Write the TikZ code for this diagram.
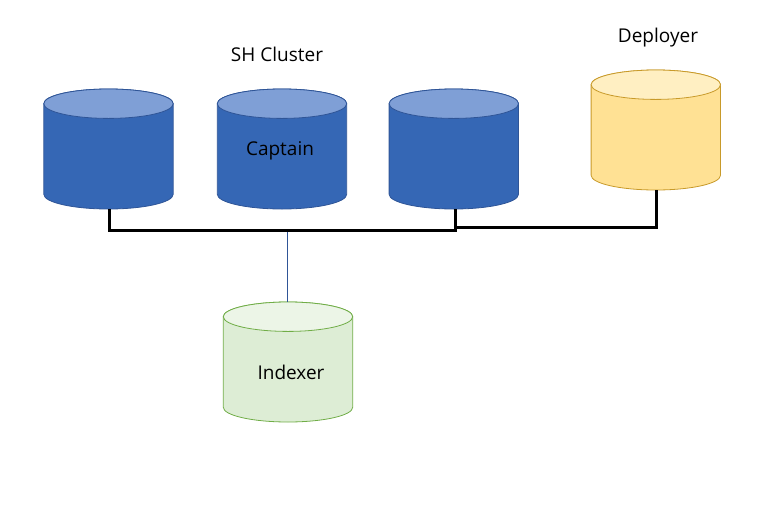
\documentclass[tikz,border=0pt]{standalone}
\usepackage{fontspec}
\setmainfont{Open Sans}
\definecolor{blueb}{HTML}{3567B5}
\definecolor{bluet}{HTML}{7F9FD6}
\definecolor{bluel}{HTML}{2F5597}
\definecolor{yelb}{HTML}{FFE194}
\definecolor{yelt}{HTML}{FFEFC2}
\definecolor{yell}{HTML}{C89A2A}
\definecolor{grnb}{HTML}{DDEDD5}
\definecolor{grnt}{HTML}{ECF5E7}
\definecolor{grnl}{HTML}{70AD47}
\tikzset{
  dbnode/.style={inner sep=0pt,outer sep=0pt,minimum width=129.4pt,minimum height=120pt},
  dbline/.style={line width=0.8pt,line join=round},
  lbl/.style={font=\fontsize{19pt}{23pt}\selectfont,text=black,inner sep=0pt,anchor=base},
  bus/.style={line width=3pt,black,line join=miter},
  bus thin/.style={line width=2.6pt,black,line join=miter},
  thin link/.style={line width=0.9pt,color=bluel}
}
% name, centre x, centre y, line colour, body colour, top colour
\newcommand{\dbcyl}[6]{%
  \node[dbnode] (#1) at (#2,#3) {};
  \filldraw[dbline,draw=#4,fill=#5]
    ([xshift=-64.7pt,yshift=45.3pt]#1.center) -- ([xshift=-64.7pt,yshift=-45.3pt]#1.center)
    arc[start angle=180,end angle=360,x radius=64.7pt,y radius=14.7pt]
    -- ([xshift=64.7pt,yshift=45.3pt]#1.center)
    arc[start angle=0,end angle=180,x radius=64.7pt,y radius=14.7pt] -- cycle;
  \filldraw[dbline,draw=#4,fill=#6]
    ([yshift=45.3pt]#1.center) ellipse[x radius=64.7pt,y radius=14.7pt];
}
\begin{document}
\begin{tikzpicture}[x=1pt,y=-1pt]
\useasboundingbox (0,0) rectangle (780,512);
\dbcyl{c1}{108.5}{149}{bluel}{blueb}{bluet}
\dbcyl{c2}{282}{149}{bluel}{blueb}{bluet}
\dbcyl{c3}{453.8}{149}{bluel}{blueb}{bluet}
\dbcyl{dep}{655.8}{130}{yell}{yelb}{yelt}
\dbcyl{idx}{288}{362}{grnl}{grnb}{grnt}
\node[lbl] (lsh) at (277,61) {SH Cluster};
\node[lbl] (ldep) at (658,42) {Deployer};
\node[lbl] (lcap) at (280,155) {Captain};
\node[lbl] (lidx) at (291,379) {Indexer};
\coordinate (j1) at (109.3,230);
\coordinate (j2) at (455.2,230);
\coordinate (j3) at (287.5,230);
\coordinate (j4) at (455.2,227.7);
\coordinate (j5) at (656.2,227.7);
\draw[thin link] (j3) -- (idx.north -| j3);
\draw[bus] (c1.south -| j1) -- (j1) -- (j2) -- (c3.south -| j2);
\draw[bus thin] (j4) -- (j5) -- (dep.south -| j5);
\end{tikzpicture}
\end{document}
